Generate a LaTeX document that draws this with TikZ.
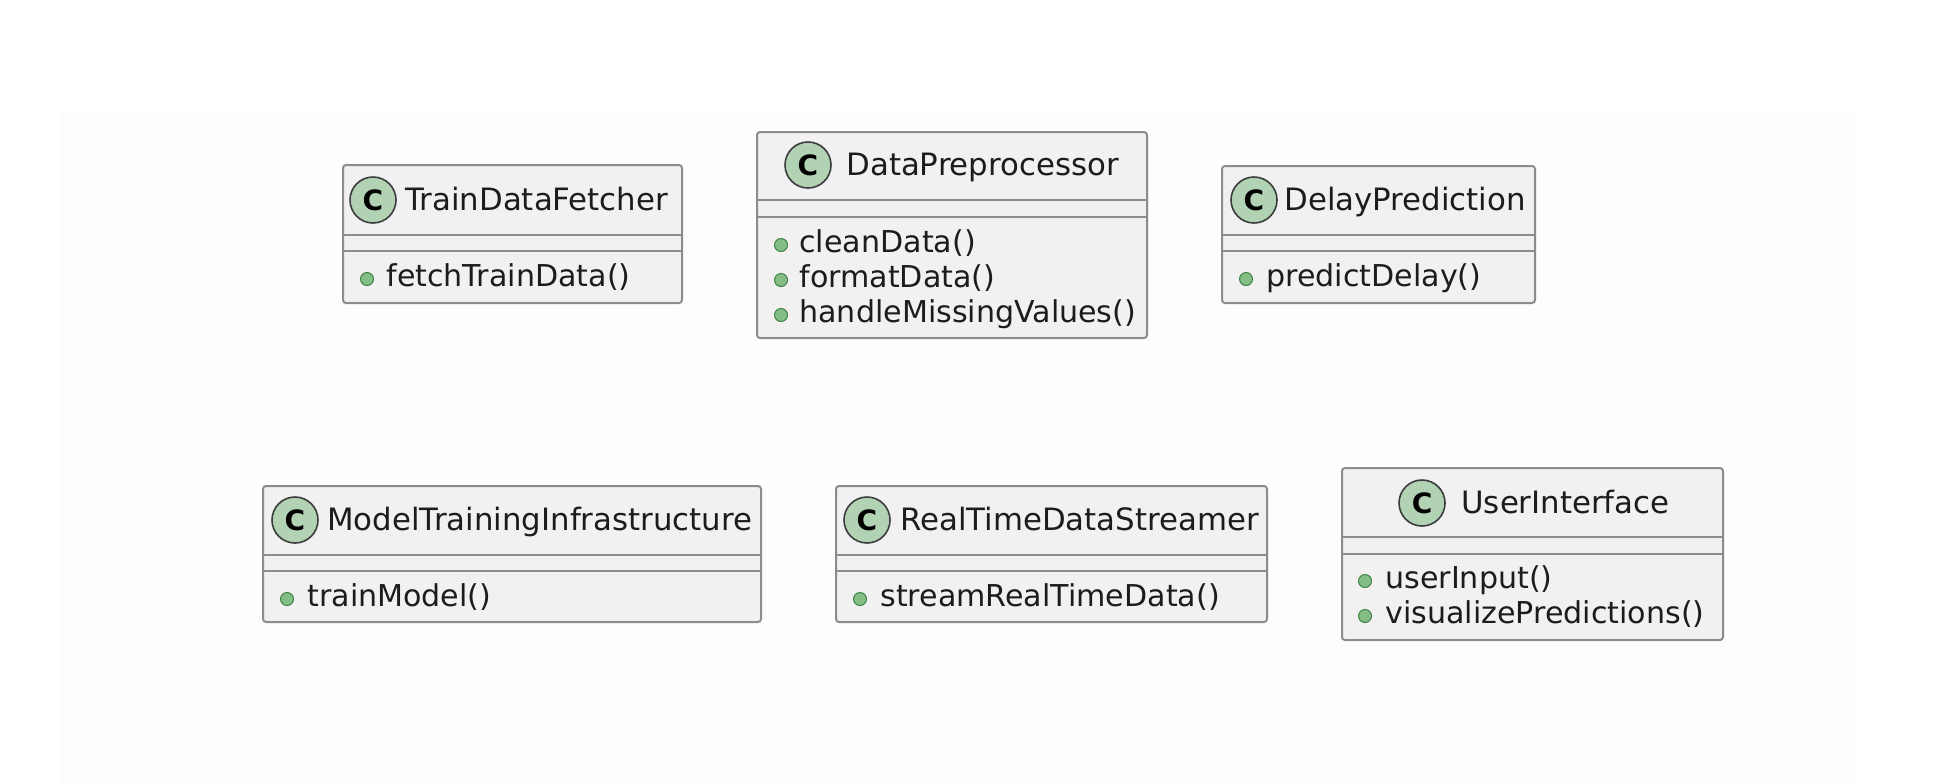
\documentclass[tikz,border=0pt]{standalone}
\usepackage{fontspec}
\setmainfont{DejaVu Sans}
\newfontfamily\badgefont{DejaVu Sans Bold}
\definecolor{boxfill}{RGB}{241,241,241}
\definecolor{boxline}{RGB}{140,140,140}
\definecolor{badgefill}{RGB}{178,210,180}
\definecolor{badgeline}{RGB}{60,60,60}
\definecolor{dotfill}{RGB}{132,190,132}
\definecolor{dotline}{RGB}{60,130,70}
\definecolor{txt}{RGB}{28,28,28}
\definecolor{bgfaint}{RGB}{253,253,253}
\tikzset{
  classbox/.style={draw=boxline, fill=boxfill, line width=1pt, rounded corners=1.5pt},
  sepline/.style={draw=boxline, line width=1pt},
  badge/.style={circle, draw=badgeline, fill=badgefill, line width=0.8pt, minimum size=23pt, inner sep=0pt, font=\badgefont\fontsize{14}{14}\selectfont, text=black},
  title/.style={anchor=base west, inner sep=0pt, text=txt, font=\fontsize{15.4}{18}\selectfont},
  method/.style={anchor=base west, inner sep=0pt, text=txt, font=\fontsize{15.05}{18}\selectfont},
  pubdot/.style={circle, draw=dotline, fill=dotfill, line width=0.5pt, minimum size=6.5pt, inner sep=0pt}
}
\begin{document}
\begin{tikzpicture}[x=0.5pt,y=-0.5pt]
\useasboundingbox (0,0) rectangle (1946,783);
\fill[bgfaint] (60,110) rectangle (1858,783);

% TrainDataFetcher
\draw[classbox] (343,165) rectangle (682,303);
\draw[sepline] (343,235) -- (682,235);
\draw[sepline] (343,251) -- (682,251);
\node[badge] (tdfC) at (373,200) {C};
\node[title] (tdfT) at (405,210) {TrainDataFetcher};
\node[pubdot] (tdfB1) at (367,279) {};
\node[method] (tdfM1) at (386,286) {fetchTrainData()};

% DataPreprocessor
\draw[classbox] (757,132) rectangle (1147,338);
\draw[sepline] (757,200) -- (1147,200);
\draw[sepline] (757,217) -- (1147,217);
\node[badge] (dpC) at (808,165) {C};
\node[title] (dpT) at (846,175) {DataPreprocessor};
\node[pubdot] (dpB1) at (781,245) {};
\node[method] (dpM1) at (799,252) {cleanData()};
\node[pubdot] (dpB2) at (781,280) {};
\node[method] (dpM2) at (799,287) {formatData()};
\node[pubdot] (dpB3) at (781,315) {};
\node[method] (dpM3) at (799,322) {handleMissingValues()};

% DelayPrediction
\draw[classbox] (1222,166) rectangle (1535,303);
\draw[sepline] (1222,235) -- (1535,235);
\draw[sepline] (1222,251) -- (1535,251);
\node[badge] (dlC) at (1254,200) {C};
\node[title] (dlT) at (1284,210) {DelayPrediction};
\node[pubdot] (dlB1) at (1246,279) {};
\node[method] (dlM1) at (1266,286) {predictDelay()};

% ModelTrainingInfrastructure
\draw[classbox] (263,486) rectangle (761,622);
\draw[sepline] (263,555) -- (761,555);
\draw[sepline] (263,571) -- (761,571);
\node[badge] (mtC) at (295,520) {C};
\node[title] (mtT) at (327,530) {ModelTrainingInfrastructure};
\node[pubdot] (mtB1) at (287,599) {};
\node[method] (mtM1) at (307,606) {trainModel()};

% RealTimeDataStreamer
\draw[classbox] (836,486) rectangle (1267,622);
\draw[sepline] (836,555) -- (1267,555);
\draw[sepline] (836,571) -- (1267,571);
\node[badge] (rtC) at (867,520) {C};
\node[title] (rtT) at (900,530) {RealTimeDataStreamer};
\node[pubdot] (rtB1) at (860,599) {};
\node[method] (rtM1) at (880,606) {streamRealTimeData()};

% UserInterface
\draw[classbox] (1342,468) rectangle (1723,640);
\draw[sepline] (1342,537) -- (1723,537);
\draw[sepline] (1342,554) -- (1723,554);
\node[badge] (uiC) at (1422,503) {C};
\node[title] (uiT) at (1461,513) {UserInterface};
\node[pubdot] (uiB1) at (1365,581) {};
\node[method] (uiM1) at (1385,588) {userInput()};
\node[pubdot] (uiB2) at (1365,616) {};
\node[method] (uiM2) at (1385,623) {visualizePredictions()};
\end{tikzpicture}
\end{document}
